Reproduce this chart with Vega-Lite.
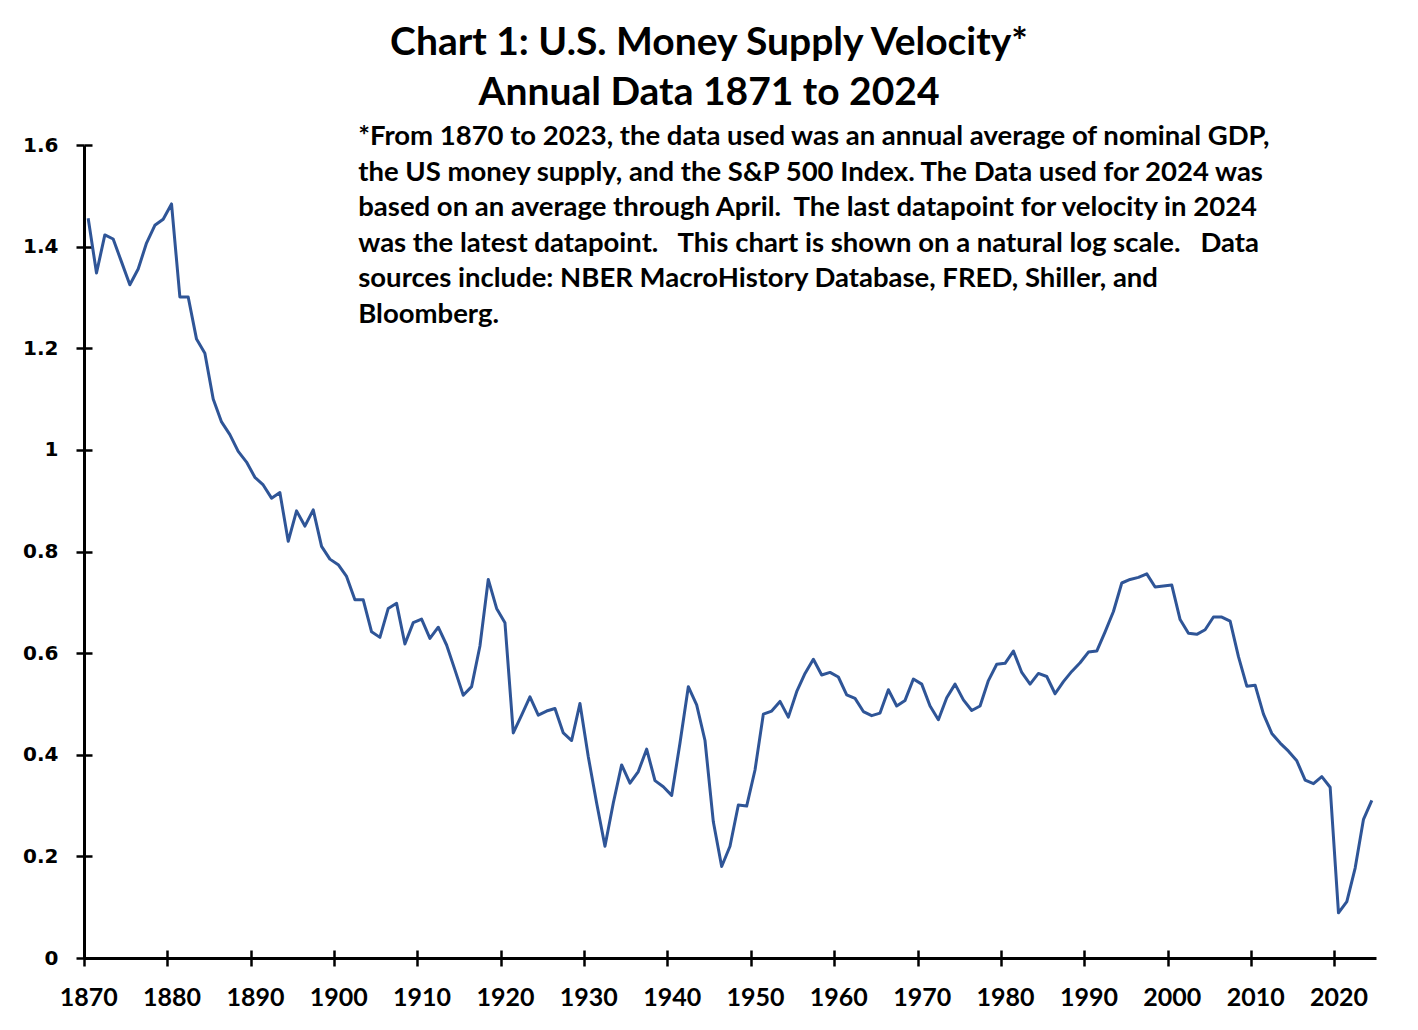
{
  "$schema": "https://vega.github.io/schema/vega-lite/v6.json",
  "width": 1292,
  "height": 813,
  "autosize": "none",
  "padding": {"left": 84, "top": 145, "right": 42, "bottom": 72},
  "background": "white",
  "config": {"view": {"stroke": null}},
  "title": {
    "text": ["Chart 1: U.S. Money Supply Velocity*", "Annual Data 1871 to 2024"],
    "font": "Lato",
    "fontSize": 39,
    "fontWeight": "bold",
    "color": "black",
    "anchor": "middle",
    "dx": -21,
    "lineHeight": 50,
    "offset": 10
  },
  "layer": [
    {
      "data": {"values": [
        {"year": 1870, "velocity": 1.456}, {"year": 1871, "velocity": 1.348}, {"year": 1872, "velocity": 1.423}, {"year": 1873, "velocity": 1.415},
        {"year": 1874, "velocity": 1.370}, {"year": 1875, "velocity": 1.325}, {"year": 1876, "velocity": 1.356}, {"year": 1877, "velocity": 1.407},
        {"year": 1878, "velocity": 1.442}, {"year": 1879, "velocity": 1.454}, {"year": 1880, "velocity": 1.484}, {"year": 1881, "velocity": 1.301},
        {"year": 1882, "velocity": 1.301}, {"year": 1883, "velocity": 1.218}, {"year": 1884, "velocity": 1.190}, {"year": 1885, "velocity": 1.100},
        {"year": 1886, "velocity": 1.055}, {"year": 1887, "velocity": 1.030}, {"year": 1888, "velocity": 0.997}, {"year": 1889, "velocity": 0.976},
        {"year": 1890, "velocity": 0.946}, {"year": 1891, "velocity": 0.931}, {"year": 1892, "velocity": 0.905}, {"year": 1893, "velocity": 0.916},
        {"year": 1894, "velocity": 0.820}, {"year": 1895, "velocity": 0.880}, {"year": 1896, "velocity": 0.850}, {"year": 1897, "velocity": 0.882},
        {"year": 1898, "velocity": 0.810}, {"year": 1899, "velocity": 0.785}, {"year": 1900, "velocity": 0.774}, {"year": 1901, "velocity": 0.751},
        {"year": 1902, "velocity": 0.705}, {"year": 1903, "velocity": 0.705}, {"year": 1904, "velocity": 0.642}, {"year": 1905, "velocity": 0.631},
        {"year": 1906, "velocity": 0.688}, {"year": 1907, "velocity": 0.698}, {"year": 1908, "velocity": 0.618}, {"year": 1909, "velocity": 0.660},
        {"year": 1910, "velocity": 0.667}, {"year": 1911, "velocity": 0.629}, {"year": 1912, "velocity": 0.651}, {"year": 1913, "velocity": 0.616},
        {"year": 1914, "velocity": 0.567}, {"year": 1915, "velocity": 0.517}, {"year": 1916, "velocity": 0.534}, {"year": 1917, "velocity": 0.614},
        {"year": 1918, "velocity": 0.745}, {"year": 1919, "velocity": 0.688}, {"year": 1920, "velocity": 0.660}, {"year": 1921, "velocity": 0.443},
        {"year": 1922, "velocity": 0.478}, {"year": 1923, "velocity": 0.514}, {"year": 1924, "velocity": 0.478}, {"year": 1925, "velocity": 0.486},
        {"year": 1926, "velocity": 0.491}, {"year": 1927, "velocity": 0.443}, {"year": 1928, "velocity": 0.428}, {"year": 1929, "velocity": 0.501},
        {"year": 1930, "velocity": 0.396}, {"year": 1931, "velocity": 0.305}, {"year": 1932, "velocity": 0.220}, {"year": 1933, "velocity": 0.305},
        {"year": 1934, "velocity": 0.380}, {"year": 1935, "velocity": 0.344}, {"year": 1936, "velocity": 0.367}, {"year": 1937, "velocity": 0.411},
        {"year": 1938, "velocity": 0.349}, {"year": 1939, "velocity": 0.337}, {"year": 1940, "velocity": 0.320}, {"year": 1941, "velocity": 0.423},
        {"year": 1942, "velocity": 0.534}, {"year": 1943, "velocity": 0.498}, {"year": 1944, "velocity": 0.428}, {"year": 1945, "velocity": 0.268},
        {"year": 1946, "velocity": 0.180}, {"year": 1947, "velocity": 0.220}, {"year": 1948, "velocity": 0.301}, {"year": 1949, "velocity": 0.299},
        {"year": 1950, "velocity": 0.370}, {"year": 1951, "velocity": 0.480}, {"year": 1952, "velocity": 0.486}, {"year": 1953, "velocity": 0.505},
        {"year": 1954, "velocity": 0.474}, {"year": 1955, "velocity": 0.524}, {"year": 1956, "velocity": 0.560}, {"year": 1957, "velocity": 0.588},
        {"year": 1958, "velocity": 0.557}, {"year": 1959, "velocity": 0.562}, {"year": 1960, "velocity": 0.553}, {"year": 1961, "velocity": 0.518},
        {"year": 1962, "velocity": 0.511}, {"year": 1963, "velocity": 0.485}, {"year": 1964, "velocity": 0.477}, {"year": 1965, "velocity": 0.482},
        {"year": 1966, "velocity": 0.528}, {"year": 1967, "velocity": 0.496}, {"year": 1968, "velocity": 0.507}, {"year": 1969, "velocity": 0.549},
        {"year": 1970, "velocity": 0.539}, {"year": 1971, "velocity": 0.496}, {"year": 1972, "velocity": 0.469}, {"year": 1973, "velocity": 0.512},
        {"year": 1974, "velocity": 0.539}, {"year": 1975, "velocity": 0.508}, {"year": 1976, "velocity": 0.487}, {"year": 1977, "velocity": 0.496},
        {"year": 1978, "velocity": 0.546}, {"year": 1979, "velocity": 0.578}, {"year": 1980, "velocity": 0.580}, {"year": 1981, "velocity": 0.604},
        {"year": 1982, "velocity": 0.562}, {"year": 1983, "velocity": 0.539}, {"year": 1984, "velocity": 0.560}, {"year": 1985, "velocity": 0.554},
        {"year": 1986, "velocity": 0.520}, {"year": 1987, "velocity": 0.544}, {"year": 1988, "velocity": 0.564}, {"year": 1989, "velocity": 0.581},
        {"year": 1990, "velocity": 0.602}, {"year": 1991, "velocity": 0.604}, {"year": 1992, "velocity": 0.642}, {"year": 1993, "velocity": 0.682},
        {"year": 1994, "velocity": 0.738}, {"year": 1995, "velocity": 0.745}, {"year": 1996, "velocity": 0.749}, {"year": 1997, "velocity": 0.756},
        {"year": 1998, "velocity": 0.730}, {"year": 1999, "velocity": 0.732}, {"year": 2000, "velocity": 0.734}, {"year": 2001, "velocity": 0.666},
        {"year": 2002, "velocity": 0.639}, {"year": 2003, "velocity": 0.637}, {"year": 2004, "velocity": 0.646}, {"year": 2005, "velocity": 0.671},
        {"year": 2006, "velocity": 0.671}, {"year": 2007, "velocity": 0.663}, {"year": 2008, "velocity": 0.593}, {"year": 2009, "velocity": 0.535},
        {"year": 2010, "velocity": 0.537}, {"year": 2011, "velocity": 0.480}, {"year": 2012, "velocity": 0.442}, {"year": 2013, "velocity": 0.423},
        {"year": 2014, "velocity": 0.407}, {"year": 2015, "velocity": 0.388}, {"year": 2016, "velocity": 0.350}, {"year": 2017, "velocity": 0.343},
        {"year": 2018, "velocity": 0.357}, {"year": 2019, "velocity": 0.336}, {"year": 2020, "velocity": 0.089}, {"year": 2021, "velocity": 0.111},
        {"year": 2022, "velocity": 0.177}, {"year": 2023, "velocity": 0.273}, {"year": 2024, "velocity": 0.310}
      ]},
      "mark": {"type": "line", "color": "#2F5597", "strokeWidth": 3, "strokeJoin": "round"},
      "encoding": {
        "x": {
          "field": "year", "type": "quantitative",
          "scale": {"domain": [1869.5, 2024.5], "nice": false, "zero": false},
          "axis": {
            "orient": "bottom", "title": null, "grid": false,
            "values": [1870, 1880, 1890, 1900, 1910, 1920, 1930, 1940, 1950, 1960, 1970, 1980, 1990, 2000, 2010, 2020],
            "format": "d", "tickOffset": -4.17, "labelOffset": 4.17,
            "domainColor": "black", "domainWidth": 3, "tickColor": "black", "tickWidth": 2.5, "tickSize": 8,
            "labelFont": "Lato", "labelFontSize": 25, "labelFontWeight": "bold", "labelColor": "black", "labelPadding": 19
          }
        },
        "y": {
          "field": "velocity", "type": "quantitative",
          "scale": {"domain": [0, 1.6], "nice": false},
          "axis": {
            "orient": "left", "title": null, "grid": false,
            "values": [0, 0.2, 0.4, 0.6, 0.8, 1, 1.2, 1.4, 1.6],
            "format": "~g",
            "domainColor": "black", "domainWidth": 3, "tickColor": "black", "tickWidth": 2.5, "tickSize": 8,
            "labelFont": "DejaVu Sans", "labelFontSize": 20, "labelFontWeight": "bold", "labelColor": "black", "labelPadding": 18
          }
        }
      }
    },
    {
      "data": {"values": [{"note": "footnote"}]},
      "mark": {
        "type": "text",
        "text": [
          "*From 1870 to 2023, the data used was an annual average of nominal GDP,",
          "the US money supply, and the S&P 500 Index. The Data used for 2024 was",
          "based on an average through April.\u00a0 The last datapoint for velocity in 2024",
          "was the latest datapoint.\u00a0\u00a0 This chart is shown on a natural log scale.\u00a0\u00a0 Data",
          "sources include: NBER MacroHistory Database, FRED, Shiller, and",
          "Bloomberg."
        ],
        "align": "left", "baseline": "alphabetic", "font": "Lato", "fontSize": 27.5, "fontWeight": "bold",
        "color": "black", "lineHeight": 35.5, "dy": 0
      },
      "encoding": {
        "x": {
          "datum": 1902.4, "type": "quantitative",
          "scale": {"domain": [1869.5, 2024.5], "nice": false, "zero": false},
          "axis": {
            "orient": "bottom", "title": null, "grid": false, "labels": false, "domain": false,
            "values": [1870, 1880, 1890, 1900, 1910, 1920, 1930, 1940, 1950, 1960, 1970, 1980, 1990, 2000, 2010, 2020],
            "tickOffset": -4.17, "tickColor": "black", "tickWidth": 2.5, "tickSize": -8
          }
        },
        "y": {
          "datum": 1.6, "type": "quantitative",
          "scale": {"domain": [0, 1.6], "nice": false},
          "axis": {
            "orient": "left", "title": null, "grid": false, "labels": false, "domain": false,
            "values": [0, 0.2, 0.4, 0.6, 0.8, 1, 1.2, 1.4, 1.6],
            "tickColor": "black", "tickWidth": 2.5, "tickSize": -8
          }
        }
      }
    }
  ],
  "resolve": {"axis": {"x": "independent", "y": "independent"}}
}
